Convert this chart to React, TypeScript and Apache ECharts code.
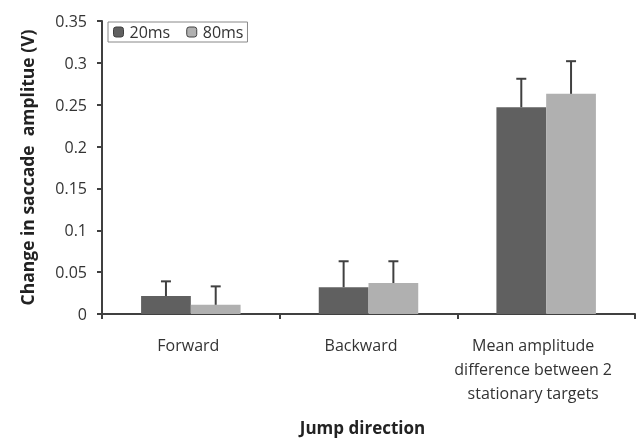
import React, { useEffect, useRef } from "react";
import * as echarts from "echarts";

const categories = [
  "Forward",
  "Backward",
  "Mean amplitude\ndifference between 2\nstationary targets",
];
const seriesNames = ["20ms", "80ms"];
const values20 = [0.0215, 0.032, 0.247];
const values80 = [0.011, 0.037, 0.263];
const err20 = [0.039, 0.063, 0.281];
const err80 = [0.033, 0.063, 0.302];
const yTicks = [0, 0.05, 0.1, 0.15, 0.2, 0.25, 0.3, 0.35];

// label layout nudges (px of right padding, shifts centred label left by half)
const labelRightPad = [5, 15, 26];

const FONT = "'Open Sans', Lato, sans-serif";

export default function App() {
  const ref = useRef<HTMLDivElement>(null);
  useEffect(() => {
    if (!ref.current) return;
    const chart = echarts.init(ref.current, undefined, { renderer: "svg" });
    const errRender = (offsetFrac: number) => (params: any, api: any) => {
      const idx = api.value(0);
      const top = api.coord([idx, api.value(1)]);
      const base = api.coord([idx, api.value(2)]);
      const bw = api.size([1, 0])[0];
      const x = top[0] + bw * offsetFrac;
      return {
        type: "group",
        children: [
          {
            type: "line",
            shape: { x1: x, y1: base[1], x2: x, y2: top[1] },
            style: { stroke: "#404040", lineWidth: 2 },
          },
          {
            type: "line",
            shape: { x1: x - 5, y1: top[1], x2: x + 5, y2: top[1] },
            style: { stroke: "#404040", lineWidth: 2 },
          },
        ],
      };
    };
    const rich: Record<string, any> = {};
    labelRightPad.forEach((p, i) => {
      rich["c" + i] = {
        fontFamily: FONT,
        fontSize: 16,
        color: "#333",
        lineHeight: 24,
        padding: [0, p, 0, 0],
      };
    });
    chart.setOption({
      animation: false,
      textStyle: { fontFamily: FONT },
      grid: {
        left: 102,
        right: 2,
        top: 21,
        bottom: 124,
        containLabel: false,
        outerBoundsMode: "none",
      },
      legend: {
        left: 108,
        top: 22,
        orient: "horizontal",
        data: seriesNames,
        itemWidth: 10,
        itemHeight: 10,
        itemGap: 16,
        padding: [2, 4, 2, 5],
        borderColor: "#888",
        borderWidth: 1,
        itemStyle: { borderColor: "#404040", borderWidth: 1 },
        textStyle: { fontFamily: FONT, fontSize: 16, color: "#333", padding: [0, 0, 0, 1] },
      },
      xAxis: {
        type: "category",
        data: categories,
        name: "Jump direction",
        nameLocation: "middle",
        nameGap: 104,
        nameTextStyle: {
          fontFamily: FONT,
          fontSize: 17,
          fontWeight: "bold",
          color: "#222",
          lineHeight: 18,
          padding: [0, 12, 0, 0],
        },
        axisLine: { lineStyle: { color: "#404040", width: 2 } },
        axisTick: { show: true, length: 5, alignWithLabel: false, lineStyle: { color: "#404040", width: 2 } },
        axisLabel: {
          fontFamily: FONT,
          fontSize: 16,
          color: "#333",
          margin: 19,
          lineHeight: 24,
          interval: 0,
          formatter: (value: string, index: number) =>
            value
              .split("\n")
              .map((l) => `{c${index}|${l}}`)
              .join("\n"),
          rich,
        },
      },
      yAxis: {
        type: "value",
        min: 0,
        max: 0.35,
        interval: 0.05,
        name: "Change in saccade  amplitue (V)",
        nameLocation: "middle",
        nameGap: 66,
        nameTextStyle: { fontFamily: FONT, fontSize: 17.5, fontWeight: "bold", color: "#222" },
        splitLine: { show: false },
        axisLine: { show: true, lineStyle: { color: "#404040", width: 2 } },
        axisTick: { show: true, length: 5, lineStyle: { color: "#404040", width: 2 } },
        axisLabel: {
          fontFamily: FONT,
          fontSize: 16,
          color: "#333",
          margin: 15,
          formatter: (v: number) => {
            const t = yTicks.find((x) => Math.abs(x - v) < 1e-9);
            return t === undefined ? "" : String(parseFloat(t.toFixed(2)));
          },
        },
      },
      series: [
        {
          name: "20ms",
          type: "bar",
          data: values20,
          barWidth: "28%",
          barGap: "0%",
          itemStyle: { color: "#606060" },
          z: 2,
        },
        {
          name: "80ms",
          type: "bar",
          data: values80,
          barWidth: "28%",
          barGap: "0%",
          itemStyle: { color: "#b0b0b0" },
          z: 2,
        },
        {
          type: "custom",
          renderItem: errRender(-0.14),
          data: categories.map((_, i) => [i, err20[i], values20[i]]),
          encode: { x: 0, y: [1, 2] },
          z: 3,
          silent: true,
        },
        {
          type: "custom",
          renderItem: errRender(0.14),
          data: categories.map((_, i) => [i, err80[i], values80[i]]),
          encode: { x: 0, y: [1, 2] },
          z: 3,
          silent: true,
        },
      ],
    });
    return () => chart.dispose();
  }, []);
  return (
    <div
      ref={ref}
      style={{ width: 637, height: 438, position: "fixed", left: 0, top: 0 }}
    />
  );
}
